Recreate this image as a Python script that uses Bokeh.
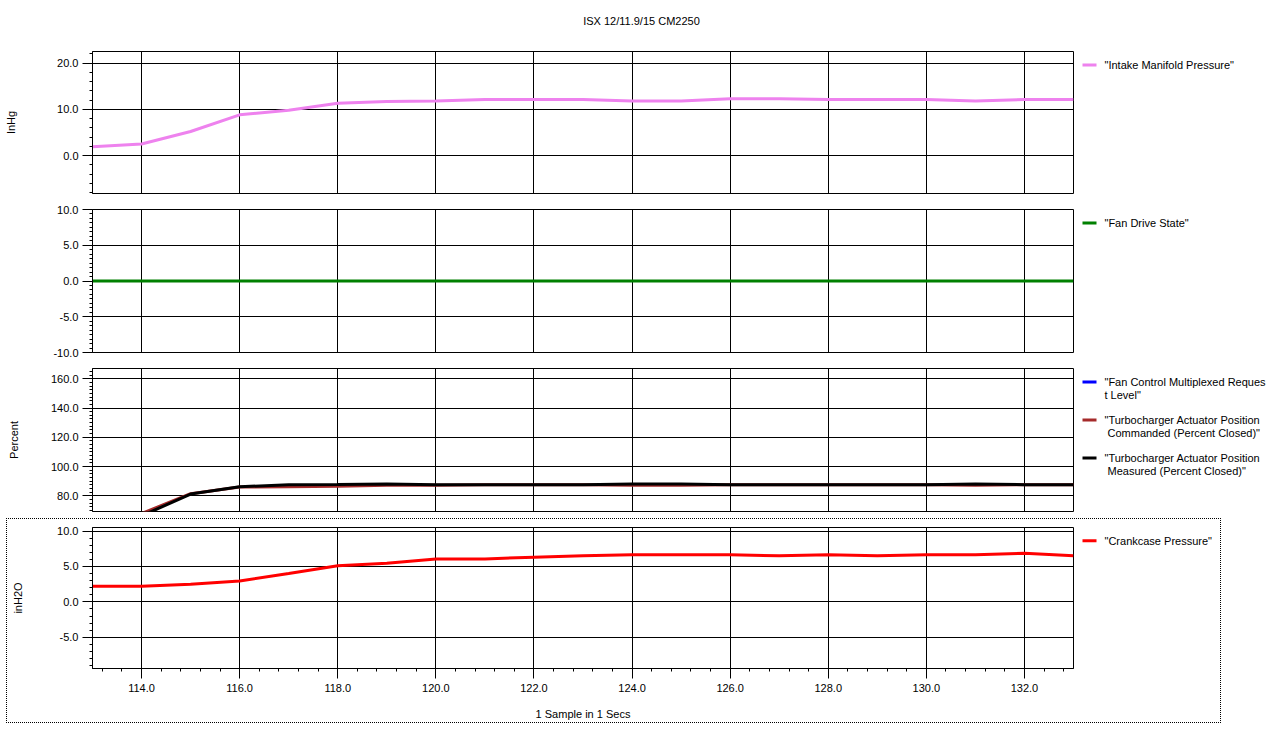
from bokeh.plotting import figure
from bokeh.models import (Range1d, SingleIntervalTicker, PrintfTickFormatter,
                          Grid, Spacer)
from bokeh.core.properties import value
from bokeh.layouts import column, row
from bokeh.embed import file_html
from bokeh.resources import INLINE

# ---------------- data ----------------
seconds = [113, 114, 115, 116, 117, 118, 119, 120, 121, 122, 123,
           124, 125, 126, 127, 128, 129, 130, 131, 132, 133]
intake_manifold = [1.9, 2.5, 5.2, 8.8, 9.8, 11.3, 11.7, 11.8, 12.1, 12.1, 12.1,
                   11.8, 11.8, 12.3, 12.3, 12.1, 12.1, 12.1, 11.8, 12.1, 12.1]
fan_drive_state = [0, 0, 0, 0, 0, 0, 0, 0, 0, 0, 0,
                   0, 0, 0, 0, 0, 0, 0, 0, 0, 0]
fan_request = [0, 0, 0, 0, 0, 0, 0, 0, 0, 0, 0,
               0, 0, 0, 0, 0, 0, 0, 0, 0, 0]
turbo_commanded = [57, 67.9, 81.5, 86.0, 86.2, 86.6, 87.2, 87.3, 87.6, 87.6, 87.6,
                   87.3, 87.3, 87.6, 87.6, 87.6, 87.6, 87.6, 87.3, 87.6, 87.6]
turbo_measured = [55, 66.3, 81.2, 86.2, 87.6, 87.8, 88.1, 87.6, 87.6, 87.6, 87.6,
                  88.1, 88.1, 87.6, 87.6, 87.6, 87.6, 87.6, 88.1, 87.6, 87.6]
crankcase = [2.2, 2.2, 2.5, 2.95, 4.0, 5.1, 5.45, 6.07, 6.07, 6.3, 6.5,
             6.67, 6.67, 6.67, 6.5, 6.67, 6.5, 6.67, 6.67, 6.86, 6.5]

title_text = "ISX 12/11.9/15 CM2250"
x_title = "1 Sample in 1 Secs"
legend1 = [['"Intake Manifold Pressure"']]
legend2 = [['"Fan Drive State"']]
legend3 = [['"Fan Control Multiplexed Reques', 't Level"'],
           ['"Turbocharger Actuator Position', 'Commanded (Percent Closed)"'],
           ['"Turbocharger Actuator Position', 'Measured (Percent Closed)"']]
legend4 = [['"Crankcase Pressure"']]

FONT = "Liberation Sans"
FS = "11px"

xr = Range1d(113, 133)


def blank_fig(width, height, yspan=None):
    yspan = height if yspan is None else yspan
    p = figure(width=width, height=height, x_range=Range1d(0, width),
               y_range=Range1d(yspan, 0), output_backend="svg",
               toolbar_location=None, x_axis_location=None, y_axis_location=None,
               min_border=0)
    p.grid.visible = False
    p.outline_line_color = None
    p.background_fill_color = "white"
    p.border_fill_color = "white"
    return p


def make_fig(height, top, bottom, yrange, interval, nminor, ylabel,
             lab_standoff, width=1074, left=92, right=1, xaxis=False):
    p = figure(width=width, height=height, x_range=xr, y_range=Range1d(*yrange),
               output_backend="svg", toolbar_location=None,
               min_border_left=left, min_border_right=right,
               min_border_top=top, min_border_bottom=bottom,
               x_axis_location=("below" if xaxis else None))
    p.background_fill_color = "white"
    p.border_fill_color = "white"
    p.outline_line_color = "black"
    p.outline_line_width = 1
    p.outline_line_alpha = 1
    for g in p.xgrid:
        g.visible = False
    p.add_layout(Grid(dimension=0, ticker=SingleIntervalTicker(interval=2),
                      grid_line_color="black", grid_line_width=1), "center")
    ax = p.yaxis[0]
    ax.ticker = SingleIntervalTicker(interval=interval, num_minor_ticks=nminor)
    ax.formatter = PrintfTickFormatter(format="%.1f")
    p.ygrid.grid_line_color = "black"
    p.ygrid.grid_line_width = 1
    axes = list(p.yaxis) + (list(p.xaxis) if xaxis else [])
    for a in axes:
        a.axis_line_color = "black"
        a.major_tick_line_color = "black"
        a.minor_tick_line_color = "black"
        a.major_tick_out = 10
        a.major_tick_in = 0
        a.minor_tick_out = 3
        a.minor_tick_in = 0
        a.major_label_text_font = FONT
        a.major_label_text_font_size = FS
        a.major_label_text_color = "black"
        a.axis_label_text_font = FONT
        a.axis_label_text_font_size = FS
        a.axis_label_text_font_style = "normal"
        a.axis_label_text_color = "black"
    ax.major_label_standoff = 4
    if ylabel:
        ax.axis_label = ylabel
        ax.axis_label_standoff = lab_standoff
    if xaxis:
        xa = p.xaxis[0]
        xa.ticker = SingleIntervalTicker(interval=2, num_minor_ticks=5)
        xa.formatter = PrintfTickFormatter(format="%.1f")
        xa.major_label_standoff = 5
        xa.axis_label = x_title
        xa.axis_label_standoff = 13
    return p


def legend_fig(width, height, frame_h, groups, colors):
    """Legend drawn in its own blank panel to the right of a plot.
    In a row its frame is aligned with the plot frame, so y is measured
    from the top of the plot frame."""
    p = blank_fig(width, height, yspan=frame_h)
    first = 13.5
    line_gap = 12.7
    item_gap = 38
    gx0, gx1, tx = 8, 22, 30
    for i, (lines, col) in enumerate(zip(groups, colors)):
        y0 = first + i * item_gap
        p.segment(x0=[gx0], y0=[y0], x1=[gx1], y1=[y0], line_color=col,
                  line_width=3)
        for j, txt in enumerate(lines):
            xoff = tx + (3 if (j > 0 and not txt.startswith("t ")) else 0)
            p.text(x=[xoff], y=[y0 + j * line_gap], text=[txt],
                   text_font=value(FONT), text_font_size=FS, text_color="black",
                   text_baseline="middle", text_align="left")
    return p


# ---- title ----
tfig = blank_fig(1280, 40)
tfig.text(x=[641], y=[20], text=[title_text], text_font=value(FONT),
          text_font_size=FS, text_color="black", text_align="center",
          text_baseline="middle")

# ---- panel 1 ----
p1 = make_fig(161, 11, 8, (-8.2, 22.5), 10, 5, "InHg", 37)
p1.line(seconds, intake_manifold, line_color="#EE82EE", line_width=3)
l1 = legend_fig(206, 161, 142, legend1, ["#EE82EE"])

# ---- panel 2 ----
p2 = make_fig(159, 8, 8, (-10, 10), 5, 8, None, 0)
p2.line(seconds, fan_drive_state, line_color="#008000", line_width=3)
l2 = legend_fig(206, 159, 143, legend2, ["#008000"])

# ---- panel 3 ----
p3 = make_fig(159, 8, 8, (69.3, 167), 20, 8, "Percent", 28)
p3.line(seconds, fan_request, line_color="#0000FF", line_width=3)
p3.line(seconds, turbo_commanded, line_color="#A52A2A", line_width=3)
p3.line(seconds, turbo_measured, line_color="black", line_width=3)
l3 = legend_fig(206, 159, 143, legend3, ["#0000FF", "#A52A2A", "black"])

# ---- panel 4 ----
p4 = make_fig(203, 8, 52, (-9.4, 10.5), 5, 5, "inH2O", 30,
              width=1067, left=85, right=1, xaxis=True)
p4.line(seconds, crankcase, line_color="#FF0000", line_width=3)
l4 = legend_fig(146, 203, 143, legend4, ["#FF0000"])
inner = row(p4, l4, spacing=0)
inner.styles = {"outline": "1px dotted black"}

layout = column(tfig,
                row(p1, l1, spacing=0),
                row(p2, l2, spacing=0),
                row(p3, l3, spacing=0),
                row(Spacer(width=7, height=203), inner, spacing=0),
                spacing=0)
open("out.html", "w").write(file_html(layout, INLINE))
